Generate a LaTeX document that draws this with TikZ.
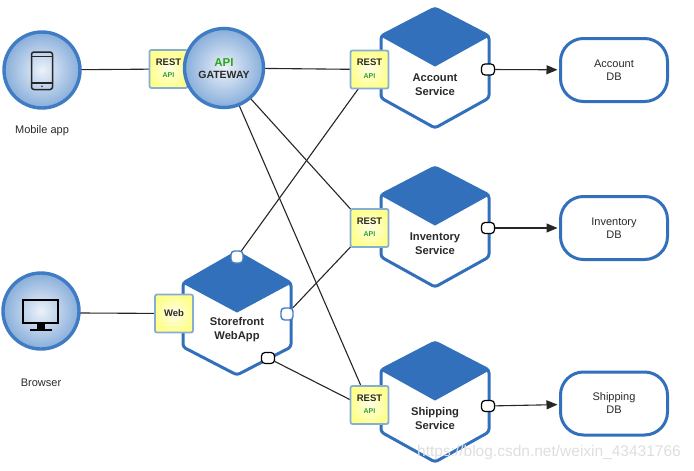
\documentclass[tikz,border=0pt]{standalone}
\usepackage{fontspec}
\setmainfont{Liberation Sans}
\usetikzlibrary{backgrounds,arrows.meta}
\definecolor{hexblue}{HTML}{3270BC}
\definecolor{ringblue}{HTML}{3F7CC4}
\definecolor{restedge}{HTML}{86ADD6}
\definecolor{apigreen}{HTML}{2FA51C}
\definecolor{txt}{HTML}{2A2A2A}
\newcommand{\fs}[1]{\fontsize{#1}{#1}\selectfont}
\tikzset{
  every node/.style={inner sep=0pt,outer sep=0pt,align=center,text=txt},
  client/.style={circle,draw=ringblue,line width=3.4pt,minimum size=76pt,inner color=white!90!ringblue,outer color=ringblue!62!white},
  adapter/.style={draw=restedge,line width=1.8pt,rounded corners=2pt,minimum width=38pt,minimum height=38pt,inner color=yellow!8!white,outer color=yellow!45!white},
  porta/.style={draw=black,line width=1.2pt,fill=white,rounded corners=3.5pt,minimum width=13pt,minimum height=11pt},
  portb/.style={draw=ringblue,line width=1.4pt,fill=white,rounded corners=3.5pt,minimum width=12pt,minimum height=12pt},
  dbbox/.style={draw=hexblue,line width=3pt,fill=white,rounded corners=23pt,minimum width=107pt,minimum height=63pt,font=\fs{11}\color{black!65}},
  wire/.style={draw=black!85,line width=1.1pt},
  flow/.style={draw=black!85,line width=1.1pt,shorten >=3pt,-{Triangle[length=11pt,width=9pt]}},
  hexlabel/.style={font=\fs{11.2}\bfseries},
  caption/.style={font=\fs{11}\color{black!70}}
}
% #1 cx, #2 top, #3 half width, #4 corner, #5 diamond bottom, #6 low corner, #7 bottom
\newcommand{\hexa}[7]{%
  \path[fill=white,draw=hexblue,line width=3pt,line join=round,rounded corners=3pt]
    (#1,#2) -- (#1+#3,#2+#4) -- (#1+#3,#2+#6) -- (#1,#2+#7) -- (#1-#3,#2+#6) -- (#1-#3,#2+#4) -- cycle;
  \path[fill=hexblue,draw=hexblue,line width=1pt,line join=round]
    (#1,#2) -- (#1+#3,#2+#4) -- (#1,#2+#5) -- (#1-#3,#2+#4) -- cycle;
}
\newcommand{\restnode}[2]{\node[adapter] (#1) at #2 {\raisebox{-2pt}{\begin{tabular}{@{}c@{}}\fs{9.5}\bfseries REST\\[0.3pt]\fs{7}\bfseries\color{apigreen}API\end{tabular}}};}
\begin{document}
\begin{tikzpicture}[x=1pt,y=-1pt]
\useasboundingbox (0,0) rectangle (694,471);

% hexagons
\hexa{435}{8}{54}{28}{58}{90}{120}
\hexa{435}{167}{54}{28}{58}{90}{120}
\hexa{435}{342}{54}{28}{58}{90}{120}
\hexa{237}{252}{54}{31}{60}{95}{123}

\node[hexlabel] (acct) at (435,85) {Account\\[3pt]Service};
\node[hexlabel] (inv) at (435,244) {Inventory\\[3pt]Service};
\node[hexlabel] (ship) at (435,418.5) {Shipping\\[3pt]Service};
\node[hexlabel] (store) at (237,330) {Storefront\\[3pt]WebApp};

% adapters
\restnode{restg}{(168.5,69)}
\restnode{resta}{(369.5,69.5)}
\restnode{resti}{(369.5,228)}
\restnode{rests}{(369.5,405)}
\node[adapter] (web) at (174,313.5) {\fs{9.5}\bfseries Web};

% clients
\node[client] (mobile) at (42,70) {};
\node[client] (browser) at (41,311) {};
\node[client,minimum size=79pt] (gw) at (224,68) {};
\node (gwt) at (224,70) {\begin{tabular}{@{}c@{}}\fs{11.5}\bfseries\color{apigreen}API\\[0.5pt]\fs{10.5}\bfseries GATEWAY\end{tabular}};

% phone icon
\draw[black!85,line width=1.5pt,rounded corners=2.5pt] (31.5,52) rectangle (52.5,89.5);
\draw[black!85,line width=1.2pt] (31.5,56.5) -- (52.5,56.5) (31.5,83) -- (52.5,83);
\fill[black!85] (42,86.2) circle (0.9pt);
% monitor icon
\draw[black,line width=2pt] (23,300) rectangle (58,323);
\fill[black] (37,323) rectangle (45,329);
\draw[black,line width=1.2pt] (30,330) -- (52,330);

% ports
\node[porta] (pa) at (488,69.5) {};
\node[porta] (pi) at (488,228) {};
\node[porta] (ps) at (488,406) {};
\node[portb] (pt) at (237,257) {};
\node[portb] (pr) at (287,314) {};
\node[porta] (pb) at (268,358) {};

% databases
\node[dbbox] (dba) at (614,70) {Account\\[2pt]DB};
\node[dbbox] (dbi) at (614,228) {Inventory\\[2pt]DB};
\node[dbbox] (dbs) at (614,403.5) {Shipping\\[2pt]DB};

% captions
\node[caption] (capm) at (42,131) {Mobile app};
\node[caption] (capb) at (41,382.5) {Browser};
\node[font=\fs{15.5},text=black!13] (mark) at (549,452) {https://blog.csdn.net/weixin\_43431766};

% connectors
\begin{scope}[on background layer]
\draw[wire] (mobile) -- (restg);
\draw[wire] (gw) -- (resta);
\draw[wire] (gw.-49) -- (resti.north west);
\draw[wire] (gw.-68) -- (rests.114);
\draw[wire] (pt) -- (resta.-120);
\draw[wire] (pr) -- (resti.south west);
\draw[wire] (pb) -- (rests.165);
\draw[wire] (browser.-3) -- (web);
\end{scope}
\draw[flow] (pa) -- (dba);
\draw[flow] (pi) -- (dbi);
\draw[flow] (ps) -- (dbs);
\end{tikzpicture}
\end{document}
